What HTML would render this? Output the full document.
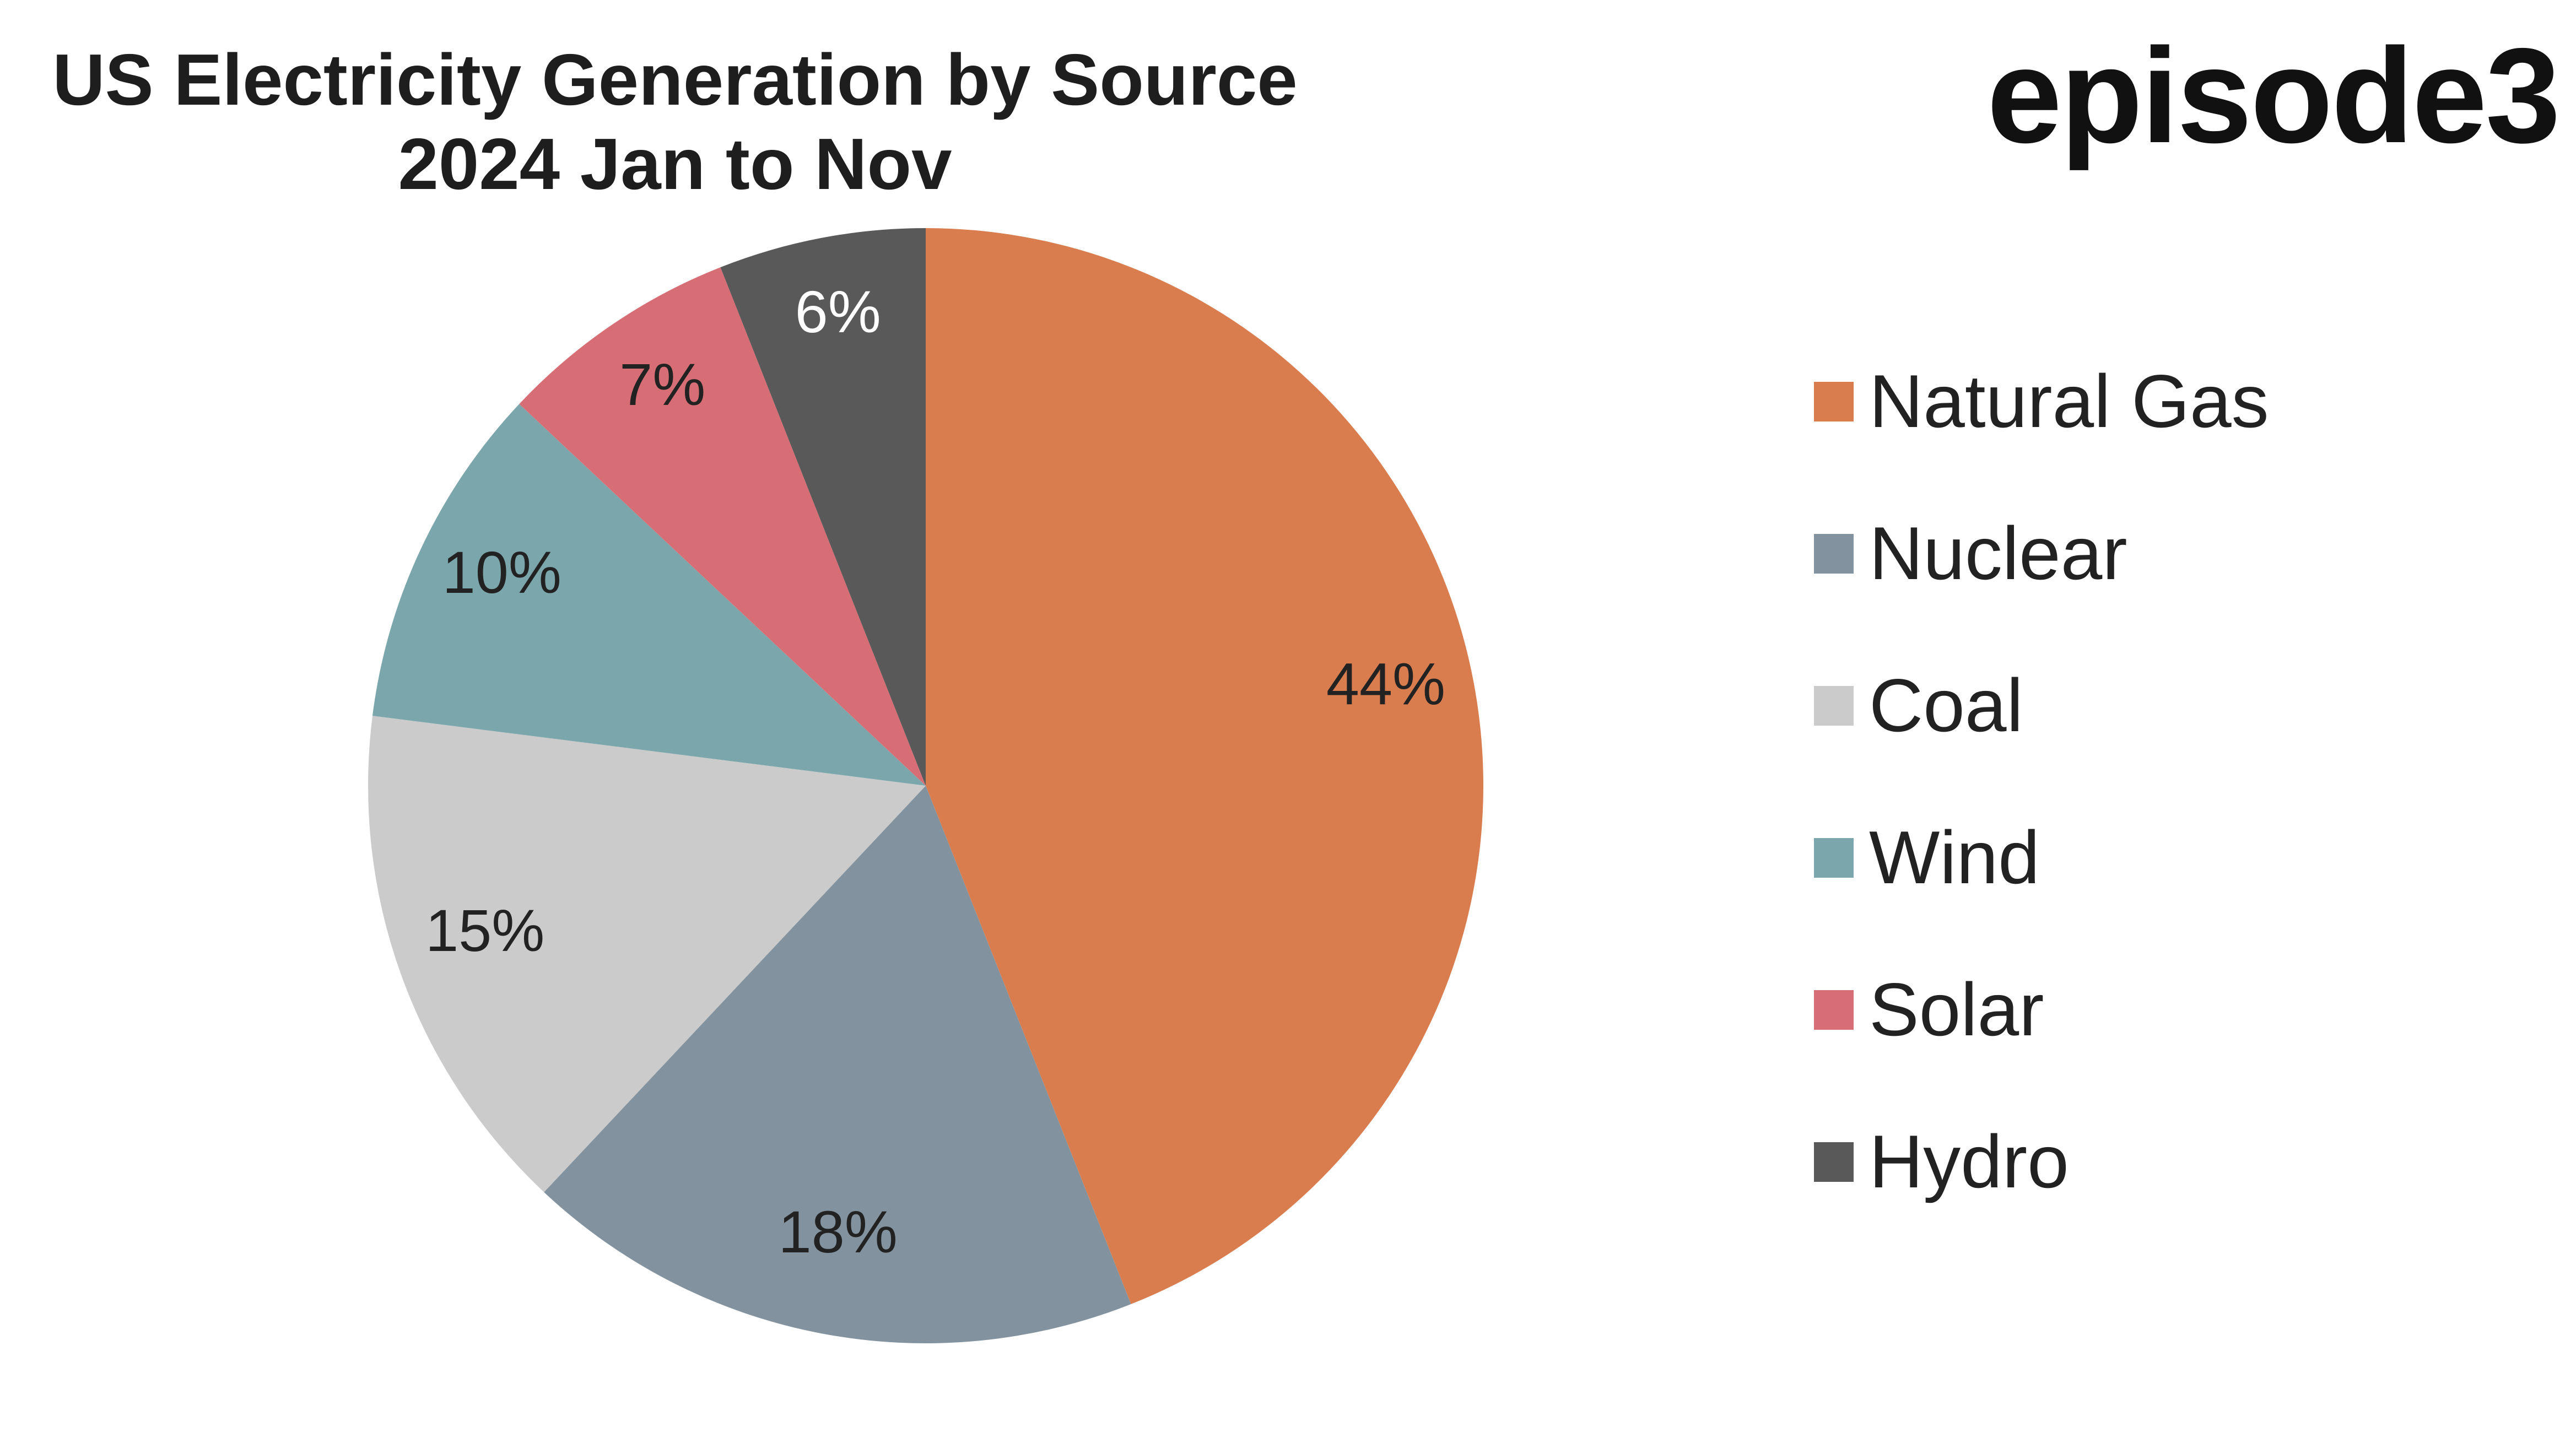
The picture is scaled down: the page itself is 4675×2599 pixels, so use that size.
<!DOCTYPE html>
<html><head><meta charset="utf-8"><style>
html,body{margin:0;padding:0;background:#fff;}
body{width:4675px;height:2594px;overflow:hidden;position:relative;font-family:"Liberation Sans",sans-serif;}
</style></head><body>
<svg id="chart" width="4675" height="2594" viewBox="0 0 4675 2594" xmlns="http://www.w3.org/2000/svg">
  <g font-family="Liberation Sans, sans-serif" font-weight="bold" font-size="132" fill="#1e1e1e" text-anchor="middle">
    <text x="1225" y="190">US Electricity Generation by Source</text>
    <text x="1225" y="343">2024 Jan to Nov</text>
  </g>
  <text x="4644" y="258" text-anchor="end" font-family="Liberation Sans, sans-serif" font-weight="bold" font-size="245" fill="#111" letter-spacing="-3">episode3</text>
  <g id="slices"></g>
  <g id="labels"></g>
  <g id="legend"></g>
</svg>
<script>
const categories = ["Natural Gas","Nuclear","Coal","Wind","Solar","Hydro"];
const values = [44,18,15,10,7,6];
const colors = ["#D97D4F","#82939F","#CBCBCB","#7BA7AC","#D76E76","#595959"];
const labelColors = ["#222","#222","#222","#222","#222","#fff"];

const NS = "http://www.w3.org/2000/svg";
const cx = 1680, cy = 1426, r = 1012;
const total = values.reduce((a,b)=>a+b,0);
function pt(angleFrac, rad){
  const a = angleFrac*2*Math.PI;
  return [cx + rad*Math.sin(a), cy - rad*Math.cos(a)];
}
const slicesG = document.getElementById('slices');
const labelsG = document.getElementById('labels');
const legendG = document.getElementById('legend');
let acc = 0;
values.forEach((v,i)=>{
  const f0 = acc/total, f1 = (acc+v)/total;
  acc += v;
  const [x0,y0] = pt(f0,r), [x1,y1] = pt(f1,r);
  const large = (f1-f0) > 0.5 ? 1 : 0;
  const p = document.createElementNS(NS,'path');
  p.setAttribute('d',`M${cx},${cy} L${x0},${y0} A${r},${r} 0 ${large} 1 ${x1},${y1} Z`);
  p.setAttribute('fill',colors[i]);
  
  
  slicesG.appendChild(p);

  const [lx,ly] = pt((f0+f1)/2, r*0.84);
  const t = document.createElementNS(NS,'text');
  t.setAttribute('x',lx); t.setAttribute('y',ly+12);
  t.setAttribute('text-anchor','middle');
  t.setAttribute('font-size','108');
  t.setAttribute('font-family','Liberation Sans, sans-serif');
  t.setAttribute('fill',labelColors[i]);
  t.textContent = Math.round(v/total*100)+'%';
  
  
  labelsG.appendChild(t);

  const ry = 729 + i*276;
  const g = document.createElementNS(NS,'g');
  
  
  const sq = document.createElementNS(NS,'rect');
  sq.setAttribute('x',3292); sq.setAttribute('y',ry-36);
  sq.setAttribute('width',72); sq.setAttribute('height',72);
  sq.setAttribute('fill',colors[i]);
  
  
  const lt = document.createElementNS(NS,'text');
  lt.setAttribute('x',3392); lt.setAttribute('y',ry+46);
  lt.setAttribute('font-size','136');
  lt.setAttribute('font-family','Liberation Sans, sans-serif');
  lt.setAttribute('fill','#222');
  lt.textContent = categories[i];
  
  
  g.appendChild(sq); g.appendChild(lt);
  legendG.appendChild(g);
});
</script>
</body></html>
